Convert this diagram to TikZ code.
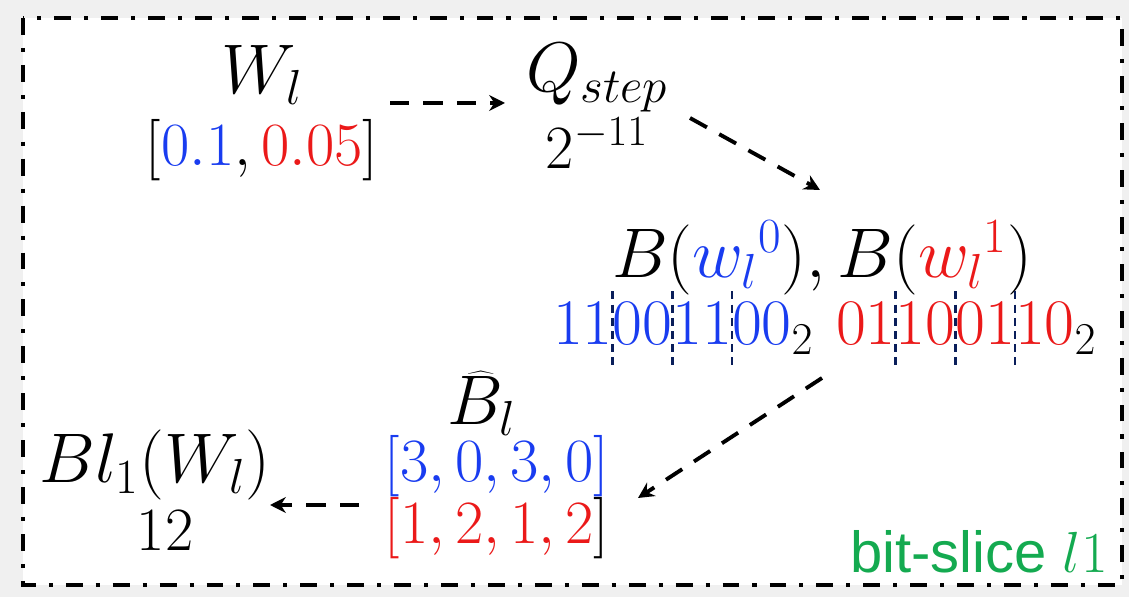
\RequirePackage{fix-cm}
\documentclass[tikz,border=0pt]{standalone}
\usepackage{fontspec}
\setsansfont{Liberation Sans}
\usetikzlibrary{positioning,arrows.meta}
\definecolor{sliceblue}{RGB}{25,60,240}
\definecolor{slicered}{RGB}{235,25,25}
\definecolor{slicegreen}{RGB}{20,170,80}
\definecolor{sepblue}{RGB}{10,30,90}
\definecolor{bggray}{RGB}{240,240,240}
\begin{document}
\begin{tikzpicture}[x=0.02cm,y=-0.02cm,
  big/.style={font=\fontsize{40}{46}\selectfont, inner sep=0pt},
  num/.style={font=\fontsize{35}{40}\selectfont, inner sep=0pt},
  bits/.style={font=\fontsize{37}{42}\selectfont, inner sep=0pt, outer sep=0pt},
  flow/.style={line width=2.2pt, dash pattern=on 11pt off 8pt, -{Stealth[length=9pt,width=9pt]}},
  sepline/.style={sepblue, line width=1.6pt, dash pattern=on 4.5pt off 3pt},
  frame/.style={line width=2.3pt, dash pattern=on 9.6pt off 7.4pt on 2.3pt off 7.4pt}]
  \useasboundingbox (0,0) rectangle (1129,597);

  % Background and frame
  \fill[bggray] (0,0) rectangle (1129,597);
  \fill[white] (23,18) rectangle (1122,585);
  \draw[frame] (23,18) rectangle (1122,585);

  % Weights and step
  \node[big] (wl) at (262,75) {$W_l$};
  \node[num] (wval) at (262,150) {$[\textcolor{sliceblue}{0.1},\textcolor{slicered}{0.05}]$};
  \node[big] (q) at (597,78) {$Q_{step}$};
  \node[num] (qval) at (597,143) {$2^{-11}$};

  % Binary codes
  \node[big] (b) at (822,258) {$B({\color{sliceblue}{w_l}^0}),B({\color{slicered}{w_l}^1})$};
  \node[bits, sliceblue, anchor=base west] (s1) at (553,345) {11};
  \node[bits, sliceblue, base right=0pt of s1] (s2) {00};
  \node[bits, sliceblue, base right=0pt of s2] (s3) {11};
  \node[bits, sliceblue, base right=0pt of s3] (s4) {00\textcolor{black}{$_2$}};
  \node[bits, slicered, anchor=base west] (s5) at (836,345) {01};
  \node[bits, slicered, base right=0pt of s5] (s6) {10};
  \node[bits, slicered, base right=0pt of s6] (s7) {01};
  \node[bits, slicered, base right=0pt of s7] (s8) {10\textcolor{black}{$_2$}};
  \foreach \s in {s1,s2,s3,s5,s6,s7}
    \draw[sepline] ([yshift=6pt]\s.north east) -- ([yshift=-13pt]\s.south east);

  % Slice sums
  \node[big] (bhat) at (482,403) {$\widehat{B}_l$};
  \node[num] (b30) at (497,466) {$\textcolor{sliceblue}{[3,0,3,0]}$};
  \node[num] (b12) at (497,528) {$\textcolor{slicered}{[1,2,1,2}]$};
  \node[big] (bl) at (155,465) {$Bl_1(W_l)$};
  \node[num] (blval) at (165,530) {12};

  % Arrows
  \draw[flow] ([shift={(128,28)}]wl.center) -- ([shift={(-92,25)}]q.center);
  \draw[flow] ([shift={(93,40)}]q.center) -- ([shift={(-2,-68)}]b.center);
  \draw[flow] ([shift={(0,120)}]b.center) -- ([shift={(141,32)}]b30.center);
  \draw[flow] ([shift={(-138,39)}]b30.center) -- ([shift={(115,40)}]bl.center);

  % Tag
  \node[anchor=base east, inner sep=0pt, slicegreen, font=\fontsize{33}{38}\selectfont\sffamily] (tag) at (1108,572) {bit-slice $l1$};
\end{tikzpicture}
\end{document}
